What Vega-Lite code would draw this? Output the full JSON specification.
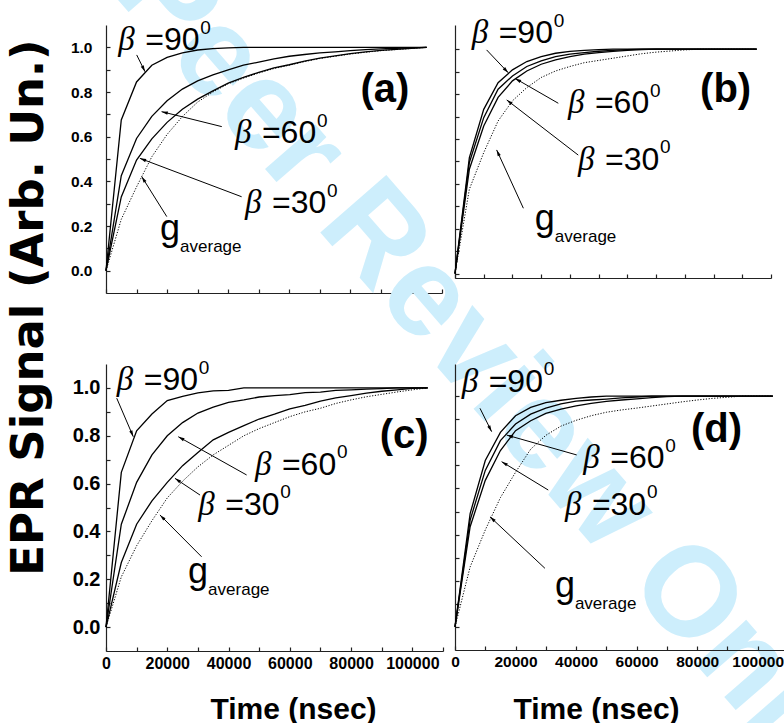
{
"$schema": "https://vega.github.io/schema/vega-lite/v6.json",
"autosize": {"type": "none"},
"padding": {"left": 106, "top": 25, "right": 678, "bottom": 698},
"background": "white",
"config": {
  "view": {"stroke": null},
  "axis": {"grid": false, "domainColor": "#222", "tickColor": "#222", "domainWidth": 1.2, "tickWidth": 1.2, "tickSize": -4,
           "labelFont": "Liberation Sans", "labelFontWeight": "bold", "labelColor": "black", "labelFontSize": 16,
           "labelOverlap": false, "labelFlush": false, "titleColor": "black"}
},
"datasets": {
  "curves": [
    {"p":"a","s":"90","t":0,"v":0},{"p":"a","s":"90","t":5000,"v":0.675},{"p":"a","s":"90","t":10000,"v":0.845},{"p":"a","s":"90","t":15000,"v":0.92},{"p":"a","s":"90","t":20000,"v":0.955},{"p":"a","s":"90","t":25000,"v":0.975},{"p":"a","s":"90","t":30000,"v":0.988},{"p":"a","s":"90","t":35000,"v":0.994},{"p":"a","s":"90","t":40000,"v":0.998},{"p":"a","s":"90","t":45000,"v":1},{"p":"a","s":"90","t":105000,"v":1},
    {"p":"a","s":"60","t":0,"v":0},{"p":"a","s":"60","t":5000,"v":0.425},{"p":"a","s":"60","t":10000,"v":0.592},{"p":"a","s":"60","t":15000,"v":0.691},{"p":"a","s":"60","t":20000,"v":0.761},{"p":"a","s":"60","t":25000,"v":0.813},{"p":"a","s":"60","t":30000,"v":0.85},{"p":"a","s":"60","t":35000,"v":0.877},{"p":"a","s":"60","t":40000,"v":0.899},{"p":"a","s":"60","t":45000,"v":0.92},{"p":"a","s":"60","t":50000,"v":0.934},{"p":"a","s":"60","t":55000,"v":0.948},{"p":"a","s":"60","t":60000,"v":0.96},{"p":"a","s":"60","t":65000,"v":0.968},{"p":"a","s":"60","t":70000,"v":0.975},{"p":"a","s":"60","t":75000,"v":0.98},{"p":"a","s":"60","t":80000,"v":0.985},{"p":"a","s":"60","t":85000,"v":0.99},{"p":"a","s":"60","t":90000,"v":0.993},{"p":"a","s":"60","t":95000,"v":0.996},{"p":"a","s":"60","t":100000,"v":0.998},{"p":"a","s":"60","t":105000,"v":1},
    {"p":"a","s":"30","t":0,"v":0},{"p":"a","s":"30","t":5000,"v":0.33},{"p":"a","s":"30","t":10000,"v":0.495},{"p":"a","s":"30","t":15000,"v":0.59},{"p":"a","s":"30","t":20000,"v":0.664},{"p":"a","s":"30","t":25000,"v":0.723},{"p":"a","s":"30","t":30000,"v":0.768},{"p":"a","s":"30","t":35000,"v":0.805},{"p":"a","s":"30","t":40000,"v":0.84},{"p":"a","s":"30","t":45000,"v":0.865},{"p":"a","s":"30","t":50000,"v":0.888},{"p":"a","s":"30","t":55000,"v":0.908},{"p":"a","s":"30","t":60000,"v":0.922},{"p":"a","s":"30","t":65000,"v":0.938},{"p":"a","s":"30","t":70000,"v":0.952},{"p":"a","s":"30","t":75000,"v":0.962},{"p":"a","s":"30","t":80000,"v":0.972},{"p":"a","s":"30","t":85000,"v":0.98},{"p":"a","s":"30","t":90000,"v":0.986},{"p":"a","s":"30","t":95000,"v":0.991},{"p":"a","s":"30","t":100000,"v":0.996},{"p":"a","s":"30","t":105000,"v":1},
    {"p":"a","s":"g","t":0,"v":0},{"p":"a","s":"g","t":5000,"v":0.23},{"p":"a","s":"g","t":10000,"v":0.375},{"p":"a","s":"g","t":15000,"v":0.51},{"p":"a","s":"g","t":20000,"v":0.61},{"p":"a","s":"g","t":25000,"v":0.69},{"p":"a","s":"g","t":30000,"v":0.755},{"p":"a","s":"g","t":35000,"v":0.8},{"p":"a","s":"g","t":40000,"v":0.837},{"p":"a","s":"g","t":45000,"v":0.862},{"p":"a","s":"g","t":50000,"v":0.885},{"p":"a","s":"g","t":55000,"v":0.905},{"p":"a","s":"g","t":60000,"v":0.92},{"p":"a","s":"g","t":65000,"v":0.936},{"p":"a","s":"g","t":70000,"v":0.95},{"p":"a","s":"g","t":75000,"v":0.96},{"p":"a","s":"g","t":80000,"v":0.97},{"p":"a","s":"g","t":85000,"v":0.978},{"p":"a","s":"g","t":90000,"v":0.985},{"p":"a","s":"g","t":95000,"v":0.99},{"p":"a","s":"g","t":100000,"v":0.995},{"p":"a","s":"g","t":105000,"v":1},
    {"p":"b","s":"90","t":0,"v":0},{"p":"b","s":"90","t":5000,"v":0.517},{"p":"b","s":"90","t":10000,"v":0.732},{"p":"b","s":"90","t":15000,"v":0.851},{"p":"b","s":"90","t":20000,"v":0.908},{"p":"b","s":"90","t":25000,"v":0.945},{"p":"b","s":"90","t":30000,"v":0.967},{"p":"b","s":"90","t":35000,"v":0.982},{"p":"b","s":"90","t":40000,"v":0.99},{"p":"b","s":"90","t":45000,"v":0.995},{"p":"b","s":"90","t":50000,"v":0.998},{"p":"b","s":"90","t":55000,"v":1},{"p":"b","s":"90","t":105000,"v":1},
    {"p":"b","s":"60","t":0,"v":0},{"p":"b","s":"60","t":5000,"v":0.495},{"p":"b","s":"60","t":10000,"v":0.695},{"p":"b","s":"60","t":15000,"v":0.822},{"p":"b","s":"60","t":20000,"v":0.881},{"p":"b","s":"60","t":25000,"v":0.923},{"p":"b","s":"60","t":30000,"v":0.948},{"p":"b","s":"60","t":35000,"v":0.967},{"p":"b","s":"60","t":40000,"v":0.978},{"p":"b","s":"60","t":45000,"v":0.985},{"p":"b","s":"60","t":50000,"v":0.991},{"p":"b","s":"60","t":55000,"v":0.995},{"p":"b","s":"60","t":60000,"v":0.998},{"p":"b","s":"60","t":65000,"v":1},{"p":"b","s":"60","t":105000,"v":1},
    {"p":"b","s":"30","t":0,"v":0},{"p":"b","s":"30","t":5000,"v":0.465},{"p":"b","s":"30","t":10000,"v":0.658},{"p":"b","s":"30","t":15000,"v":0.785},{"p":"b","s":"30","t":20000,"v":0.859},{"p":"b","s":"30","t":25000,"v":0.903},{"p":"b","s":"30","t":30000,"v":0.933},{"p":"b","s":"30","t":35000,"v":0.952},{"p":"b","s":"30","t":40000,"v":0.967},{"p":"b","s":"30","t":45000,"v":0.978},{"p":"b","s":"30","t":50000,"v":0.985},{"p":"b","s":"30","t":55000,"v":0.99},{"p":"b","s":"30","t":60000,"v":0.995},{"p":"b","s":"30","t":65000,"v":0.998},{"p":"b","s":"30","t":70000,"v":1},{"p":"b","s":"30","t":105000,"v":1},
    {"p":"b","s":"g","t":0,"v":0},{"p":"b","s":"g","t":5000,"v":0.376},{"p":"b","s":"g","t":10000,"v":0.539},{"p":"b","s":"g","t":15000,"v":0.68},{"p":"b","s":"g","t":20000,"v":0.77},{"p":"b","s":"g","t":25000,"v":0.829},{"p":"b","s":"g","t":30000,"v":0.874},{"p":"b","s":"g","t":35000,"v":0.903},{"p":"b","s":"g","t":40000,"v":0.923},{"p":"b","s":"g","t":45000,"v":0.94},{"p":"b","s":"g","t":50000,"v":0.95},{"p":"b","s":"g","t":55000,"v":0.96},{"p":"b","s":"g","t":60000,"v":0.97},{"p":"b","s":"g","t":65000,"v":0.98},{"p":"b","s":"g","t":70000,"v":0.987},{"p":"b","s":"g","t":75000,"v":0.992},{"p":"b","s":"g","t":80000,"v":0.997},{"p":"b","s":"g","t":85000,"v":1},{"p":"b","s":"g","t":105000,"v":1},
    {"p":"c","s":"90","t":0,"v":0},{"p":"c","s":"90","t":5000,"v":0.647},{"p":"c","s":"90","t":10000,"v":0.821},{"p":"c","s":"90","t":15000,"v":0.891},{"p":"c","s":"90","t":20000,"v":0.947},{"p":"c","s":"90","t":25000,"v":0.965},{"p":"c","s":"90","t":30000,"v":0.979},{"p":"c","s":"90","t":35000,"v":0.988},{"p":"c","s":"90","t":40000,"v":0.99},{"p":"c","s":"90","t":45000,"v":1},{"p":"c","s":"90","t":105000,"v":1},
    {"p":"c","s":"60","t":0,"v":0},{"p":"c","s":"60","t":5000,"v":0.43},{"p":"c","s":"60","t":10000,"v":0.605},{"p":"c","s":"60","t":15000,"v":0.72},{"p":"c","s":"60","t":20000,"v":0.8},{"p":"c","s":"60","t":25000,"v":0.855},{"p":"c","s":"60","t":30000,"v":0.895},{"p":"c","s":"60","t":35000,"v":0.92},{"p":"c","s":"60","t":40000,"v":0.94},{"p":"c","s":"60","t":45000,"v":0.95},{"p":"c","s":"60","t":50000,"v":0.962},{"p":"c","s":"60","t":55000,"v":0.968},{"p":"c","s":"60","t":60000,"v":0.972},{"p":"c","s":"60","t":65000,"v":0.98},{"p":"c","s":"60","t":70000,"v":0.982},{"p":"c","s":"60","t":75000,"v":0.99},{"p":"c","s":"60","t":80000,"v":0.992},{"p":"c","s":"60","t":85000,"v":0.995},{"p":"c","s":"60","t":90000,"v":0.997},{"p":"c","s":"60","t":95000,"v":1},{"p":"c","s":"60","t":105000,"v":1},
    {"p":"c","s":"30","t":0,"v":0},{"p":"c","s":"30","t":5000,"v":0.27},{"p":"c","s":"30","t":10000,"v":0.43},{"p":"c","s":"30","t":15000,"v":0.528},{"p":"c","s":"30","t":20000,"v":0.605},{"p":"c","s":"30","t":25000,"v":0.675},{"p":"c","s":"30","t":30000,"v":0.73},{"p":"c","s":"30","t":35000,"v":0.783},{"p":"c","s":"30","t":40000,"v":0.814},{"p":"c","s":"30","t":45000,"v":0.842},{"p":"c","s":"30","t":50000,"v":0.87},{"p":"c","s":"30","t":55000,"v":0.89},{"p":"c","s":"30","t":60000,"v":0.912},{"p":"c","s":"30","t":65000,"v":0.927},{"p":"c","s":"30","t":70000,"v":0.945},{"p":"c","s":"30","t":75000,"v":0.958},{"p":"c","s":"30","t":80000,"v":0.968},{"p":"c","s":"30","t":85000,"v":0.978},{"p":"c","s":"30","t":90000,"v":0.986},{"p":"c","s":"30","t":95000,"v":0.992},{"p":"c","s":"30","t":100000,"v":0.998},{"p":"c","s":"30","t":105000,"v":1},
    {"p":"c","s":"g","t":0,"v":0},{"p":"c","s":"g","t":5000,"v":0.21},{"p":"c","s":"g","t":10000,"v":0.34},{"p":"c","s":"g","t":15000,"v":0.445},{"p":"c","s":"g","t":20000,"v":0.54},{"p":"c","s":"g","t":25000,"v":0.61},{"p":"c","s":"g","t":30000,"v":0.67},{"p":"c","s":"g","t":35000,"v":0.72},{"p":"c","s":"g","t":40000,"v":0.76},{"p":"c","s":"g","t":45000,"v":0.8},{"p":"c","s":"g","t":50000,"v":0.83},{"p":"c","s":"g","t":55000,"v":0.855},{"p":"c","s":"g","t":60000,"v":0.88},{"p":"c","s":"g","t":65000,"v":0.9},{"p":"c","s":"g","t":70000,"v":0.915},{"p":"c","s":"g","t":75000,"v":0.935},{"p":"c","s":"g","t":80000,"v":0.95},{"p":"c","s":"g","t":85000,"v":0.963},{"p":"c","s":"g","t":90000,"v":0.973},{"p":"c","s":"g","t":95000,"v":0.983},{"p":"c","s":"g","t":100000,"v":0.992},{"p":"c","s":"g","t":105000,"v":1},
    {"p":"d","s":"90","t":0,"v":0},{"p":"d","s":"90","t":5000,"v":0.491},{"p":"d","s":"90","t":10000,"v":0.721},{"p":"d","s":"90","t":15000,"v":0.843},{"p":"d","s":"90","t":20000,"v":0.915},{"p":"d","s":"90","t":25000,"v":0.951},{"p":"d","s":"90","t":30000,"v":0.972},{"p":"d","s":"90","t":35000,"v":0.982},{"p":"d","s":"90","t":40000,"v":0.99},{"p":"d","s":"90","t":45000,"v":0.996},{"p":"d","s":"90","t":50000,"v":1},{"p":"d","s":"90","t":105000,"v":1},
    {"p":"d","s":"60","t":0,"v":0},{"p":"d","s":"60","t":5000,"v":0.463},{"p":"d","s":"60","t":10000,"v":0.678},{"p":"d","s":"60","t":15000,"v":0.807},{"p":"d","s":"60","t":20000,"v":0.879},{"p":"d","s":"60","t":25000,"v":0.922},{"p":"d","s":"60","t":30000,"v":0.948},{"p":"d","s":"60","t":35000,"v":0.966},{"p":"d","s":"60","t":40000,"v":0.978},{"p":"d","s":"60","t":45000,"v":0.983},{"p":"d","s":"60","t":50000,"v":0.987},{"p":"d","s":"60","t":55000,"v":0.992},{"p":"d","s":"60","t":60000,"v":0.996},{"p":"d","s":"60","t":65000,"v":1},{"p":"d","s":"60","t":105000,"v":1},
    {"p":"d","s":"30","t":0,"v":0},{"p":"d","s":"30","t":5000,"v":0.434},{"p":"d","s":"30","t":10000,"v":0.635},{"p":"d","s":"30","t":15000,"v":0.764},{"p":"d","s":"30","t":20000,"v":0.85},{"p":"d","s":"30","t":25000,"v":0.893},{"p":"d","s":"30","t":30000,"v":0.925},{"p":"d","s":"30","t":35000,"v":0.944},{"p":"d","s":"30","t":40000,"v":0.958},{"p":"d","s":"30","t":45000,"v":0.968},{"p":"d","s":"30","t":50000,"v":0.977},{"p":"d","s":"30","t":55000,"v":0.983},{"p":"d","s":"30","t":60000,"v":0.988},{"p":"d","s":"30","t":65000,"v":0.993},{"p":"d","s":"30","t":70000,"v":0.998},{"p":"d","s":"30","t":75000,"v":1},{"p":"d","s":"30","t":105000,"v":1},
    {"p":"d","s":"g","t":0,"v":0},{"p":"d","s":"g","t":5000,"v":0.26},{"p":"d","s":"g","t":10000,"v":0.42},{"p":"d","s":"g","t":15000,"v":0.56},{"p":"d","s":"g","t":20000,"v":0.67},{"p":"d","s":"g","t":25000,"v":0.77},{"p":"d","s":"g","t":30000,"v":0.83},{"p":"d","s":"g","t":35000,"v":0.87},{"p":"d","s":"g","t":40000,"v":0.895},{"p":"d","s":"g","t":45000,"v":0.915},{"p":"d","s":"g","t":50000,"v":0.93},{"p":"d","s":"g","t":55000,"v":0.94},{"p":"d","s":"g","t":60000,"v":0.948},{"p":"d","s":"g","t":65000,"v":0.957},{"p":"d","s":"g","t":70000,"v":0.966},{"p":"d","s":"g","t":75000,"v":0.975},{"p":"d","s":"g","t":80000,"v":0.983},{"p":"d","s":"g","t":85000,"v":0.99},{"p":"d","s":"g","t":90000,"v":0.995},{"p":"d","s":"g","t":95000,"v":1},{"p":"d","s":"g","t":105000,"v":1}
  ],
  "labels": [
    {"p":"a","txt":"=90","t":4000,"v":0.988},{"p":"a","txt":"=60","t":42200,"v":0.57},{"p":"a","txt":"=30","t":45500,"v":0.257},
    {"p":"b","txt":"=90","t":5800,"v":1.026},{"p":"b","txt":"=60","t":39300,"v":0.714},{"p":"b","txt":"=30","t":42800,"v":0.462},
    {"p":"c","txt":"=90","t":3500,"v":0.991},{"p":"c","txt":"=60","t":48600,"v":0.636},{"p":"c","txt":"=30","t":30100,"v":0.469},
    {"p":"d","txt":"=90","t":2200,"v":1.019},{"p":"d","txt":"=60","t":42400,"v":0.687},{"p":"d","txt":"=30","t":36300,"v":0.485}
  ],
  "glabels": [
    {"p":"a","t":17700,"v":0.137},{"p":"b","t":27800,"v":0.194},{"p":"c","t":26800,"v":0.183},{"p":"d","t":33000,"v":0.131}
  ],
  "arrows": [
    {"p":"a","t":10050,"v":0.966,"t2":12770,"v2":0.891,"ang":154},{"p":"a","t":37900,"v":0.645,"t2":18200,"v2":0.712,"ang":-76},{"p":"a","t":44400,"v":0.331,"t2":11100,"v2":0.503,"ang":-69},{"p":"a","t":19900,"v":0.242,"t2":11700,"v2":0.421,"ang":-32},
    {"p":"b","t":11000,"v":0.997,"t2":18550,"v2":0.895,"ang":136},{"p":"b","t":35960,"v":0.759,"t2":20900,"v2":0.87,"ang":-60},{"p":"b","t":42900,"v":0.528,"t2":18000,"v2":0.774,"ang":-52.5},{"p":"b","t":23800,"v":0.291,"t2":14500,"v2":0.551,"ang":-24.5},
    {"p":"c","t":3500,"v":0.957,"t2":8900,"v2":0.796,"ang":157},{"p":"c","t":45900,"v":0.636,"t2":23600,"v2":0.796,"ang":-61},{"p":"c","t":30700,"v":0.552,"t2":22500,"v2":0.622,"ang":-56},{"p":"c","t":31200,"v":0.294,"t2":17600,"v2":0.469,"ang":-45},
    {"p":"d","t":8260,"v":0.947,"t2":12100,"v2":0.846,"ang":153},{"p":"d","t":40200,"v":0.745,"t2":17100,"v2":0.831,"ang":-74},{"p":"d","t":30800,"v":0.593,"t2":15400,"v2":0.716,"ang":-59},{"p":"d","t":29700,"v":0.254,"t2":11560,"v2":0.477,"ang":-47}
  ],
  "plabels": [
    {"p":"a","txt":"(a)","t":91300,"v":0.755},{"p":"b","txt":"(b)","t":94200,"v":0.766},{"p":"c","txt":"(c)","t":97300,"v":0.748},{"p":"d","txt":"(d)","t":86400,"v":0.802}
  ]
},
"bounds": "flush",
"columns": 2,
"spacing": {"row": 71, "column": 12},
"concat": [
  {"width": 336, "height": 268,
   "encoding": {
     "x": {"field": "t", "type": "quantitative", "scale": {"domain": [0, 110000], "nice": false, "zero": false},
           "axis": {"values": [0,10000,20000,30000,40000,50000,60000,70000,80000,90000,100000,110000], "labels": false, "title": null}},
     "y": {"field": "v", "type": "quantitative", "scale": {"domain": [-0.1, 1.1], "nice": false, "zero": false},
           "axis": {"values": [0,0.1,0.2,0.3,0.4,0.5,0.6,0.7,0.8,0.9,1.0], "labelExpr": "round(datum.value*10) % 2 == 0 ? format(datum.value, '.1f') : ''",
                    "labelFontSize": 15.5, "labelPadding": 18,
                    "title": "EPR Signal  (Arb. Un.)", "titleFont": "DejaVu Sans", "titleFontWeight": "bold", "titleFontSize": 45,
                    "titleAngle": 270, "titleX": -64, "titleY": 282, "titleAlign": "center", "titleBaseline": "alphabetic"}}
   },
   "layer": [
     {"data": {"values": [{"txt": "Peer Review Only", "t": 125500, "v": -0.44}]},
      "mark": {"type": "text", "font": "Liberation Sans", "fontWeight": "bold", "fontSize": 127, "angle": 49, "align": "center", "baseline": "middle", "color": "#cdeefc"},
      "encoding": {"text": {"field": "txt"}}},
     {"data": {"name": "curves"}, "transform": [{"filter": "datum.p == 'a' && datum.s != 'g'"}],
      "mark": {"type": "line", "color": "black", "strokeWidth": 1.3}, "encoding": {"detail": {"field": "s"}}},
     {"data": {"name": "curves"}, "transform": [{"filter": "datum.p == 'a' && datum.s == 'g'"}],
      "mark": {"type": "line", "color": "black", "strokeWidth": 1, "strokeDash": [1.2, 1.6]}, "encoding": {}},
     {"data": {"name": "arrows"}, "transform": [{"filter": "datum.p == 'a'"}],
      "mark": {"type": "rule", "color": "black", "strokeWidth": 1}, "encoding": {"x2": {"field": "t2"}, "y2": {"field": "v2"}}},
     {"data": {"name": "arrows"}, "transform": [{"filter": "datum.p == 'a'"}],
      "mark": {"type": "point", "shape": "M0,0L-0.4,1.5L0.4,1.5Z", "filled": true, "color": "black", "opacity": 1, "size": 70},
      "encoding": {"x": {"field": "t2", "type": "quantitative"}, "y": {"field": "v2", "type": "quantitative"}, "angle": {"field": "ang", "type": "quantitative", "scale": null}}},
     {"data": {"name": "labels"}, "transform": [{"filter": "datum.p == 'a'"}],
      "mark": {"type": "text", "text": "β", "font": "Liberation Serif", "fontStyle": "italic", "fontSize": 33, "align": "left", "baseline": "alphabetic", "color": "black"}, "encoding": {}},
     {"data": {"name": "labels"}, "transform": [{"filter": "datum.p == 'a'"}],
      "mark": {"type": "text", "font": "Liberation Sans", "fontSize": 32, "align": "left", "baseline": "alphabetic", "dx": 27, "color": "black"}, "encoding": {"text": {"field": "txt"}}},
     {"data": {"name": "labels"}, "transform": [{"filter": "datum.p == 'a'"}],
      "mark": {"type": "text", "text": "0", "font": "Liberation Sans", "fontSize": 19, "align": "left", "baseline": "alphabetic", "dx": 82, "dy": -16.5, "color": "black"}, "encoding": {}},
     {"data": {"name": "glabels"}, "transform": [{"filter": "datum.p == 'a'"}],
      "mark": {"type": "text", "text": "g", "font": "Liberation Sans", "fontSize": 36, "align": "left", "baseline": "alphabetic", "color": "black"}, "encoding": {}},
     {"data": {"name": "glabels"}, "transform": [{"filter": "datum.p == 'a'"}],
      "mark": {"type": "text", "text": "average", "font": "Liberation Sans", "fontSize": 17, "align": "left", "baseline": "alphabetic", "dx": 20, "dy": 12, "color": "black"}, "encoding": {}},
     {"data": {"name": "plabels"}, "transform": [{"filter": "datum.p == 'a'"}],
      "mark": {"type": "text", "font": "Liberation Sans", "fontWeight": "bold", "fontSize": 40, "align": "center", "baseline": "alphabetic", "color": "black"}, "encoding": {"text": {"field": "txt"}}}
   ]},
  {"width": 316, "height": 253,
   "encoding": {
     "x": {"field": "t", "type": "quantitative", "scale": {"domain": [0, 110000], "nice": false, "zero": false},
           "axis": {"values": [0,10000,20000,30000,40000,50000,60000,70000,80000,90000,100000,110000], "labels": false, "title": null}},
     "y": {"field": "v", "type": "quantitative", "scale": {"domain": [-0.02, 1.108], "nice": false, "zero": false},
           "axis": {"values": [0,0.1,0.2,0.3,0.4,0.5,0.6,0.7,0.8,0.9,1.0], "labels": false, "title": null}}
   },
   "layer": [
     {"data": {"name": "curves"}, "transform": [{"filter": "datum.p == 'b' && datum.s != 'g'"}],
      "mark": {"type": "line", "color": "black", "strokeWidth": 1.3}, "encoding": {"detail": {"field": "s"}}},
     {"data": {"name": "curves"}, "transform": [{"filter": "datum.p == 'b' && datum.s == 'g'"}],
      "mark": {"type": "line", "color": "black", "strokeWidth": 1, "strokeDash": [1.2, 1.6]}, "encoding": {}},
     {"data": {"name": "arrows"}, "transform": [{"filter": "datum.p == 'b'"}],
      "mark": {"type": "rule", "color": "black", "strokeWidth": 1}, "encoding": {"x2": {"field": "t2"}, "y2": {"field": "v2"}}},
     {"data": {"name": "arrows"}, "transform": [{"filter": "datum.p == 'b'"}],
      "mark": {"type": "point", "shape": "M0,0L-0.4,1.5L0.4,1.5Z", "filled": true, "color": "black", "opacity": 1, "size": 70},
      "encoding": {"x": {"field": "t2", "type": "quantitative"}, "y": {"field": "v2", "type": "quantitative"}, "angle": {"field": "ang", "type": "quantitative", "scale": null}}},
     {"data": {"name": "labels"}, "transform": [{"filter": "datum.p == 'b'"}],
      "mark": {"type": "text", "text": "β", "font": "Liberation Serif", "fontStyle": "italic", "fontSize": 33, "align": "left", "baseline": "alphabetic", "color": "black"}, "encoding": {}},
     {"data": {"name": "labels"}, "transform": [{"filter": "datum.p == 'b'"}],
      "mark": {"type": "text", "font": "Liberation Sans", "fontSize": 32, "align": "left", "baseline": "alphabetic", "dx": 27, "color": "black"}, "encoding": {"text": {"field": "txt"}}},
     {"data": {"name": "labels"}, "transform": [{"filter": "datum.p == 'b'"}],
      "mark": {"type": "text", "text": "0", "font": "Liberation Sans", "fontSize": 19, "align": "left", "baseline": "alphabetic", "dx": 82, "dy": -16.5, "color": "black"}, "encoding": {}},
     {"data": {"name": "glabels"}, "transform": [{"filter": "datum.p == 'b'"}],
      "mark": {"type": "text", "text": "g", "font": "Liberation Sans", "fontSize": 36, "align": "left", "baseline": "alphabetic", "color": "black"}, "encoding": {}},
     {"data": {"name": "glabels"}, "transform": [{"filter": "datum.p == 'b'"}],
      "mark": {"type": "text", "text": "average", "font": "Liberation Sans", "fontSize": 17, "align": "left", "baseline": "alphabetic", "dx": 20, "dy": 12, "color": "black"}, "encoding": {}},
     {"data": {"name": "plabels"}, "transform": [{"filter": "datum.p == 'b'"}],
      "mark": {"type": "text", "font": "Liberation Sans", "fontWeight": "bold", "fontSize": 40, "align": "center", "baseline": "alphabetic", "color": "black"}, "encoding": {"text": {"field": "txt"}}}
   ]},
  {"width": 337, "height": 287,
   "encoding": {
     "x": {"field": "t", "type": "quantitative", "scale": {"domain": [0, 110000], "nice": false, "zero": false},
           "axis": {"values": [0,10000,20000,30000,40000,50000,60000,70000,80000,90000,100000,110000], "labelExpr": "datum.value % 20000 == 0 && datum.value < 105000 ? format(datum.value, 'd') : ''",
                    "labelFontSize": 16, "labelPadding": 8,
                    "title": "Time (nsec)", "titleFont": "Liberation Sans", "titleFontWeight": "bold", "titleFontSize": 30,
                    "titleX": 187, "titleY": 67, "titleAlign": "center", "titleBaseline": "alphabetic"}},
     "y": {"field": "v", "type": "quantitative", "scale": {"domain": [-0.1, 1.1], "nice": false, "zero": false},
           "axis": {"values": [0,0.1,0.2,0.3,0.4,0.5,0.6,0.7,0.8,0.9,1.0], "labelExpr": "round(datum.value*10) % 2 == 0 ? format(datum.value, '.1f') : ''",
                    "labelFontSize": 20, "labelPadding": 10, "title": null}}
   },
   "layer": [
     {"data": {"name": "curves"}, "transform": [{"filter": "datum.p == 'c' && datum.s != 'g'"}],
      "mark": {"type": "line", "color": "black", "strokeWidth": 1.3}, "encoding": {"detail": {"field": "s"}}},
     {"data": {"name": "curves"}, "transform": [{"filter": "datum.p == 'c' && datum.s == 'g'"}],
      "mark": {"type": "line", "color": "black", "strokeWidth": 1, "strokeDash": [1.2, 1.6]}, "encoding": {}},
     {"data": {"name": "arrows"}, "transform": [{"filter": "datum.p == 'c'"}],
      "mark": {"type": "rule", "color": "black", "strokeWidth": 1}, "encoding": {"x2": {"field": "t2"}, "y2": {"field": "v2"}}},
     {"data": {"name": "arrows"}, "transform": [{"filter": "datum.p == 'c'"}],
      "mark": {"type": "point", "shape": "M0,0L-0.4,1.5L0.4,1.5Z", "filled": true, "color": "black", "opacity": 1, "size": 70},
      "encoding": {"x": {"field": "t2", "type": "quantitative"}, "y": {"field": "v2", "type": "quantitative"}, "angle": {"field": "ang", "type": "quantitative", "scale": null}}},
     {"data": {"name": "labels"}, "transform": [{"filter": "datum.p == 'c'"}],
      "mark": {"type": "text", "text": "β", "font": "Liberation Serif", "fontStyle": "italic", "fontSize": 33, "align": "left", "baseline": "alphabetic", "color": "black"}, "encoding": {}},
     {"data": {"name": "labels"}, "transform": [{"filter": "datum.p == 'c'"}],
      "mark": {"type": "text", "font": "Liberation Sans", "fontSize": 32, "align": "left", "baseline": "alphabetic", "dx": 27, "color": "black"}, "encoding": {"text": {"field": "txt"}}},
     {"data": {"name": "labels"}, "transform": [{"filter": "datum.p == 'c'"}],
      "mark": {"type": "text", "text": "0", "font": "Liberation Sans", "fontSize": 19, "align": "left", "baseline": "alphabetic", "dx": 82, "dy": -16.5, "color": "black"}, "encoding": {}},
     {"data": {"name": "glabels"}, "transform": [{"filter": "datum.p == 'c'"}],
      "mark": {"type": "text", "text": "g", "font": "Liberation Sans", "fontSize": 36, "align": "left", "baseline": "alphabetic", "color": "black"}, "encoding": {}},
     {"data": {"name": "glabels"}, "transform": [{"filter": "datum.p == 'c'"}],
      "mark": {"type": "text", "text": "average", "font": "Liberation Sans", "fontSize": 17, "align": "left", "baseline": "alphabetic", "dx": 20, "dy": 12, "color": "black"}, "encoding": {}},
     {"data": {"name": "plabels"}, "transform": [{"filter": "datum.p == 'c'"}],
      "mark": {"type": "text", "font": "Liberation Sans", "fontWeight": "bold", "fontSize": 40, "align": "center", "baseline": "alphabetic", "color": "black"}, "encoding": {"text": {"field": "txt"}}}
   ]},
  {"width": 333, "height": 286,
   "encoding": {
     "x": {"field": "t", "type": "quantitative", "scale": {"domain": [0, 110000], "nice": false, "zero": false},
           "axis": {"values": [0,10000,20000,30000,40000,50000,60000,70000,80000,90000,100000,110000], "labelExpr": "datum.value % 20000 == 0 && datum.value < 105000 ? format(datum.value, 'd') : ''",
                    "labelFontSize": 15.5, "labelPadding": 8,
                    "title": "Time (nsec)", "titleFont": "Liberation Sans", "titleFontWeight": "bold", "titleFontSize": 30,
                    "titleX": 141, "titleY": 68, "titleAlign": "center", "titleBaseline": "alphabetic"}},
     "y": {"field": "v", "type": "quantitative", "scale": {"domain": [-0.1, 1.139], "nice": false, "zero": false},
           "axis": {"values": [0,0.1,0.2,0.3,0.4,0.5,0.6,0.7,0.8,0.9,1.0], "labels": false, "title": null}}
   },
   "layer": [
     {"data": {"name": "curves"}, "transform": [{"filter": "datum.p == 'd' && datum.s != 'g'"}],
      "mark": {"type": "line", "color": "black", "strokeWidth": 1.3}, "encoding": {"detail": {"field": "s"}}},
     {"data": {"name": "curves"}, "transform": [{"filter": "datum.p == 'd' && datum.s == 'g'"}],
      "mark": {"type": "line", "color": "black", "strokeWidth": 1, "strokeDash": [1.2, 1.6]}, "encoding": {}},
     {"data": {"name": "arrows"}, "transform": [{"filter": "datum.p == 'd'"}],
      "mark": {"type": "rule", "color": "black", "strokeWidth": 1}, "encoding": {"x2": {"field": "t2"}, "y2": {"field": "v2"}}},
     {"data": {"name": "arrows"}, "transform": [{"filter": "datum.p == 'd'"}],
      "mark": {"type": "point", "shape": "M0,0L-0.4,1.5L0.4,1.5Z", "filled": true, "color": "black", "opacity": 1, "size": 70},
      "encoding": {"x": {"field": "t2", "type": "quantitative"}, "y": {"field": "v2", "type": "quantitative"}, "angle": {"field": "ang", "type": "quantitative", "scale": null}}},
     {"data": {"name": "labels"}, "transform": [{"filter": "datum.p == 'd'"}],
      "mark": {"type": "text", "text": "β", "font": "Liberation Serif", "fontStyle": "italic", "fontSize": 33, "align": "left", "baseline": "alphabetic", "color": "black"}, "encoding": {}},
     {"data": {"name": "labels"}, "transform": [{"filter": "datum.p == 'd'"}],
      "mark": {"type": "text", "font": "Liberation Sans", "fontSize": 32, "align": "left", "baseline": "alphabetic", "dx": 27, "color": "black"}, "encoding": {"text": {"field": "txt"}}},
     {"data": {"name": "labels"}, "transform": [{"filter": "datum.p == 'd'"}],
      "mark": {"type": "text", "text": "0", "font": "Liberation Sans", "fontSize": 19, "align": "left", "baseline": "alphabetic", "dx": 82, "dy": -16.5, "color": "black"}, "encoding": {}},
     {"data": {"name": "glabels"}, "transform": [{"filter": "datum.p == 'd'"}],
      "mark": {"type": "text", "text": "g", "font": "Liberation Sans", "fontSize": 36, "align": "left", "baseline": "alphabetic", "color": "black"}, "encoding": {}},
     {"data": {"name": "glabels"}, "transform": [{"filter": "datum.p == 'd'"}],
      "mark": {"type": "text", "text": "average", "font": "Liberation Sans", "fontSize": 17, "align": "left", "baseline": "alphabetic", "dx": 20, "dy": 12, "color": "black"}, "encoding": {}},
     {"data": {"name": "plabels"}, "transform": [{"filter": "datum.p == 'd'"}],
      "mark": {"type": "text", "font": "Liberation Sans", "fontWeight": "bold", "fontSize": 40, "align": "center", "baseline": "alphabetic", "color": "black"}, "encoding": {"text": {"field": "txt"}}}
   ]}
]
}
